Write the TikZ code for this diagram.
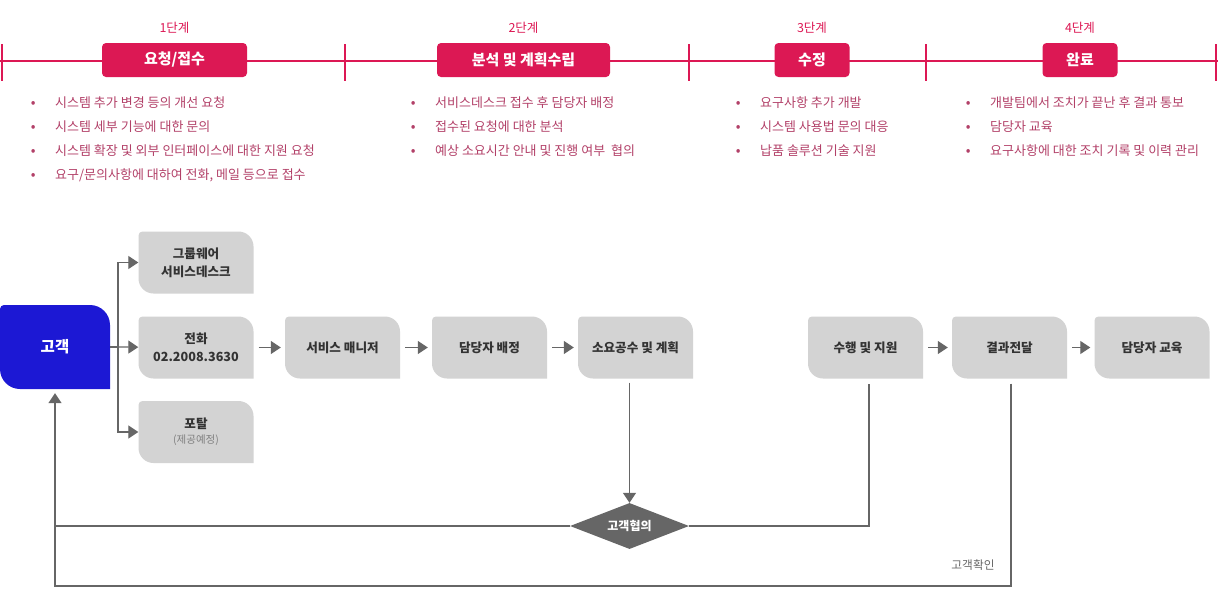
\documentclass[tikz,border=0pt]{standalone}
\usepackage{fontspec}
\setmainfont{Noto Sans CJK KR}
\usepackage{tikz}
\usetikzlibrary{arrows.meta}
\usetikzlibrary{shapes.geometric}

\definecolor{stagered}{RGB}{220,24,84}
\definecolor{itemrose}{RGB}{178,64,104}
\definecolor{clientblue}{RGB}{28,24,212}
\definecolor{boxgray}{RGB}{211,211,211}
\definecolor{linegray}{RGB}{102,102,102}
\definecolor{txtdark}{RGB}{51,51,51}

\newcommand\bul{\makebox[14pt]{\fontsize{14}{14}\selectfont •}\hspace{15pt}}

\tikzset{leaf/.style 2 args={fill=white, path picture={\fill[#1]
  (path picture bounding box.south east)
  -- ([yshift=-#2]path picture bounding box.north east) arc[start angle=0,end angle=90,radius=#2]
  -- ([xshift=4pt]path picture bounding box.north west) arc[start angle=90,end angle=180,radius=4pt]
  -- ([yshift=#2]path picture bounding box.south west) arc[start angle=180,end angle=270,radius=#2]
  -- cycle;}}}
\tikzset{num/.style={text=stagered, font=\fontsize{12.5}{14}\selectfont}}
\tikzset{st/.style={fill=stagered, rounded corners=4pt, minimum height=34pt, inner sep=0pt, text=white, font=\bfseries\fontsize{15}{16}\selectfont}}
\tikzset{it/.style={anchor=west, inner sep=0pt, text=itemrose, font=\fontsize{13}{15}\selectfont}}
\tikzset{box/.style={leaf={boxgray}{15pt}, minimum width=115pt, minimum height=62pt, inner sep=0pt, align=center, text=txtdark, font=\bfseries\fontsize{12.6}{18}\selectfont}}
\tikzset{cl/.style={leaf={clientblue}{20pt}, minimum width=110pt, minimum height=84pt, inner sep=0pt, text=white, font=\bfseries\fontsize{15.5}{16}\selectfont}}
\tikzset{dia/.style={diamond, aspect=2.6, fill=linegray, minimum width=119pt, minimum height=46pt, inner sep=0pt, text=white, font=\bfseries\fontsize{12}{14}\selectfont}}
\tikzset{note/.style={text=linegray, font=\fontsize{11.7}{14}\selectfont}}
\tikzset{ln/.style={draw=linegray, line width=1.2pt}}
\tikzset{ar/.style={draw=linegray, line width=1.2pt, -{Triangle[length=10pt,width=13pt]}}}

\begin{document}
\begin{tikzpicture}[x=1pt,y=-1pt]
  \useasboundingbox (0,0) rectangle (1218,611);

  % stages
  \draw[stagered, line width=2pt] (0,61) -- (1218,61);
  \draw[stagered, line width=2pt] (2,44) -- (2,81) (345,44) -- (345,81)
    (689,44) -- (689,81) (926,44) -- (926,81) (1216,44) -- (1216,81);

  \node[num] (n1) at (174.5,28) {1단계};
  \node[num] (n2) at (523.5,28) {2단계};
  \node[num] (n3) at (812,28) {3단계};
  \node[num] (n4) at (1080,28) {4단계};

  \node[st, minimum width=145pt] (st1) at (174.5,60) {요청/접수};
  \node[st, minimum width=173pt] (st2) at (523.5,60) {분석 및 계획수립};
  \node[st, minimum width=75pt] (st3) at (812,60) {수정};
  \node[st, minimum width=75pt] (st4) at (1080,60) {완료};

  \node[it] (i1a) at (26,103) {\bul 시스템 추가 변경 등의 개선 요청};
  \node[it] (i1b) at (26,127) {\bul 시스템 세부 기능에 대한 문의};
  \node[it] (i1c) at (26,151) {\bul 시스템 확장 및 외부 인터페이스에 대한 지원 요청};
  \node[it] (i1d) at (26,175) {\bul 요구/문의사항에 대하여 전화, 메일 등으로 접수};

  \node[it] (i2a) at (406,103) {\bul 서비스데스크 접수 후 담당자 배정};
  \node[it] (i2b) at (406,127) {\bul 접수된 요청에 대한 분석};
  \node[it] (i2c) at (406,151) {\bul 예상 소요시간 안내 및 진행 여부 \ 협의};

  \node[it] (i3a) at (731,103) {\bul 요구사항 추가 개발};
  \node[it] (i3b) at (731,127) {\bul 시스템 사용법 문의 대응};
  \node[it] (i3c) at (731,151) {\bul 납품 솔루션 기술 지원};

  \node[it] (i4a) at (961,103) {\bul 개발팀에서 조치가 끝난 후 결과 통보};
  \node[it] (i4b) at (961,127) {\bul 담당자 교육};
  \node[it] (i4c) at (961,151) {\bul 요구사항에 대한 조치 기록 및 이력 관리};

  % flow
  \node[cl] (client) at (55,347) {고객};
  \node[box] (gw) at (196,262.5) {그룹웨어\\서비스데스크};
  \node[box] (tel) at (196,347.5) {전화\\02.2008.3630};
  \node[box] (portal) at (196,432) {포탈\\[-3pt]{\mdseries\color{gray}\fontsize{10.5}{12}\selectfont(제공예정)}};
  \node[box] (svc) at (342.5,347.5) {서비스 매니저};
  \node[box] (assign) at (489.5,347.5) {담당자 배정};
  \node[box] (plan) at (635.5,347.5) {소요공수 및 계획};
  \node[box] (exec) at (865.5,347.5) {수행 및 지원};
  \node[box] (result) at (1009.5,347.5) {결과전달};
  \node[box] (edu) at (1152,347.5) {담당자 교육};
  \node[dia] (talk) at (629.5,526) {고객협의};
  \node[note] (confirm) at (973,565) {고객확인};

  \coordinate (fork) at (118,347);
  \coordinate (back) at (55,586);

  \draw[ln] (client) -- (fork);
  \draw[ar] (fork) |- (gw);
  \draw[ar] (fork) -- (tel);
  \draw[ar] (fork) |- (portal);
  \draw[ar, shorten <=5pt, shorten >=4pt] (tel) -- (svc);
  \draw[ar, shorten <=5pt, shorten >=4pt] (svc) -- (assign);
  \draw[ar, shorten <=5pt, shorten >=4pt] (assign) -- (plan);
  \draw[ar, shorten <=5pt, shorten >=4pt] (exec) -- (result);
  \draw[ar, shorten <=5pt, shorten >=4pt] (result) -- (edu);

  \draw[ar, shorten <=4pt] (talk |- plan.south) -- (talk);
  \draw[ln] (talk.east) -| ([xshift=3.5pt,yshift=-5pt]exec.south);
  \draw[ln] (talk.west) -- (talk.west -| client);
  \draw[ar, shorten >=4pt] ([xshift=1.5pt,yshift=-5pt]result.south) |- (back) -- (client);
\end{tikzpicture}
\end{document}
